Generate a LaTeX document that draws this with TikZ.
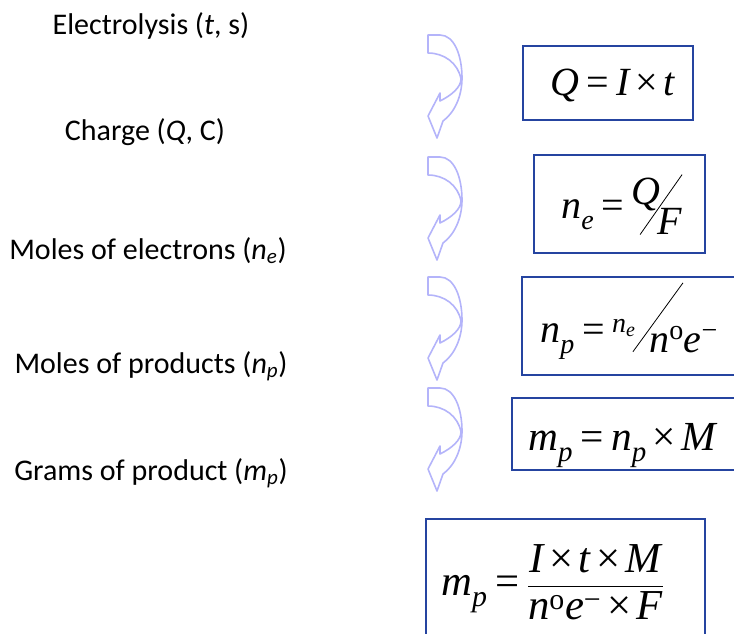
\documentclass[tikz,border=0pt]{standalone}
\usepackage{amsmath}
\usepackage{fontspec}
\setmainfont{Carlito}
\newfontfamily\tnr{Liberation Serif}
\usetikzlibrary{positioning}
\definecolor{cframe}{HTML}{2544A0}
\definecolor{cbend}{HTML}{B4B4FA}
\newcommand{\vr}[1]{\text{\tnr\itshape #1}}
\newcommand{\rmup}[1]{\text{\tnr #1}}
\newcommand{\eqs}{\mathrel{\rmup{=}}}
\newcommand{\tms}{\mathbin{\rmup{×}}}
\newcommand{\lo}[1]{_{\raisebox{-0.16em}{$\scriptstyle\vr{#1}$}}}
\newcommand{\slantbar}[2]{\rotatebox{#1}{\rule{#2}{0.6pt}}}

\begin{document}
\begin{tikzpicture}[x=0.75pt,y=-0.75pt,
    lab/.style={font=\fontsize{22.5}{27}\selectfont,anchor=base,inner sep=0pt},
    eqn/.style={anchor=base west,inner sep=0pt,
      execute at begin node={\thickmuskip=4mu\medmuskip=3mu}},
    frame/.style={draw=cframe,line width=1.5pt},
    bendarrow/.pic={
      \draw[cbend,line width=1.2pt,fill=white,line join=round]
        (0,0) -- (12,0) .. controls (26,0) and (34,20) .. (34,43)
        .. controls (34,62) and (26,78) .. (15,86) -- (9,103) -- (0,81)
        -- (12,58) -- (12,66) .. controls (24,60) and (33,52) .. (33,44)
        .. controls (30,28) and (16,18) .. (0,18) -- cycle;}]
  \path[use as bounding box] (0,0) rectangle (734,633);
  \clip (0,0) rectangle (734,633);

  % quantities
  \node[lab] (elec) at (151,34) {Electrolysis (\textit{t}, s)};
  \node[lab] (chg) at (145,140) {Charge (\textit{Q}, C)};
  \node[lab] (mole) at (148,259) {Moles of electrons (\textit{n}\textsubscript{\textit{e}})};
  \node[lab] (molp) at (151,373) {Moles of products (\textit{n}\textsubscript{\textit{p}})};
  \node[lab] (grm) at (151,480) {Grams of product (\textit{m}\textsubscript{\textit{p}})};

  % bent arrows between steps
  \foreach \y in {35,157,277,388}
    \pic at (428,\y) {bendarrow};

  % formula boxes
  \draw[frame] (523,46) rectangle (693,120);
  \draw[frame] (534,155) rectangle (705,253);
  \draw[frame] (522,277) rectangle (760,375);
  \draw[frame] (512,398) rectangle (760,470);
  \draw[frame] (426,519) rectangle (705,660);

  \node[eqn,font=\fontsize{30}{34}\selectfont] (eqq) at (550,95)
    {$\vr{Q}\eqs\vr{I}\tms\vr{t}$};
  \node[eqn,font=\fontsize{30}{34}\selectfont] (eqne) at (561,218)
    {$\vr{n}\lo{e}\eqs\raisebox{0.33em}{\vr{Q}}\kern-0.52em
      \raisebox{-0.42em}{\slantbar{55}{1.83em}}\kern-0.62em\raisebox{-0.42em}{\vr{F}}$};
  \node[eqn,font=\fontsize{30}{34}\selectfont] (eqnp) at (540,342)
    {$\vr{n}\lo{p}\eqs\raisebox{0.25em}{$\scriptstyle\vr{n}_{\vr{e}}$}\kern-0.08em
      \raisebox{-0.25em}{\slantbar{54}{2.13em}}\kern-0.85em
      \raisebox{-0.25em}{$\vr{n}^{\rmup{o}}\vr{e}^{\rmup{−}}$}$};
  \node[eqn,font=\fontsize{31}{36}\selectfont] (eqmp) at (528,450)
    {$\vr{m}\lo{p}\eqs\vr{n}\lo{p}\tms\vr{M}$};
  \node[eqn,font=\fontsize{32}{36}\selectfont] (eqall) at (441,595)
    {$\vr{m}\lo{p}\eqs\dfrac{\vr{I}\tms\vr{t}\tms\vr{M}}
      {\vr{n}^{\rmup{o}}\vr{e}^{\rmup{−}}\tms\vr{F}}$};
\end{tikzpicture}
\end{document}
